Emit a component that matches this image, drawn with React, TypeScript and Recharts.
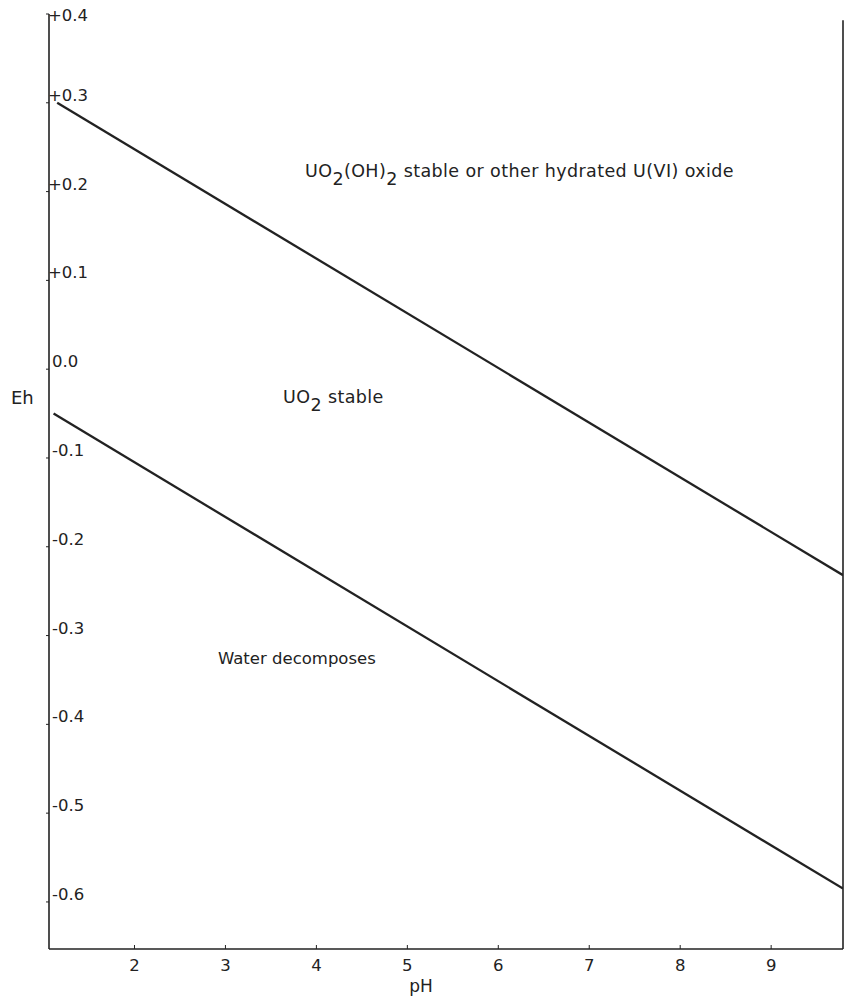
import { LineChart, Line, XAxis, YAxis, ReferenceLine } from "recharts";

// pH range shown on the bottom axis and Eh range on the left axis
const phDomain = [1.06, 9.79];
const ehDomain = [-0.653, 0.4];
const phTicks = [2, 3, 4, 5, 6, 7, 8, 9];
const ehTicks = [0.4, 0.3, 0.2, 0.1, 0.0, -0.1, -0.2, -0.3, -0.4, -0.5, -0.6];

// boundary UO2 / UO2(OH)2
const upperBoundary = [
  { ph: 1.15, eh: 0.3 },
  { ph: 9.79, eh: -0.232 },
];

// water stability limit
const lowerBoundary = [
  { ph: 1.11, eh: -0.05 },
  { ph: 9.79, eh: -0.585 },
];

const INK = "#222";
const FONT = "'DejaVu Sans', sans-serif";
const AXIS_X = 49;
const AXIS_Y = 949;

const formatEh = (v: number) => {
  if (Math.abs(v) < 1e-9) return "0.0";
  return (v > 0 ? "+" : "-") + Math.abs(v).toFixed(1);
};

const EhTick = (props: any) => {
  const { y, payload } = props;
  const label = formatEh(payload.value);
  return (
    <g>
      <line x1={AXIS_X - 3} x2={AXIS_X} y1={y} y2={y} stroke={INK} strokeWidth={1} />
      <text
        x={label.startsWith("+") ? AXIS_X - 1 : AXIS_X + 3}
        y={Math.max(y - 2, 21)}
        fontSize={16.5}
        fill={INK}
        fontFamily={FONT}
      >
        {label}
      </text>
    </g>
  );
};

const PhTick = (props: any) => {
  const { x, payload } = props;
  return (
    <g>
      <line x1={x} x2={x} y1={AXIS_Y} y2={AXIS_Y - 4} stroke={INK} strokeWidth={1} />
      <text x={x} y={AXIS_Y + 22} fontSize={16.5} fill={INK} fontFamily={FONT} textAnchor="middle">
        {payload.value}
      </text>
    </g>
  );
};

const App = () => {
  return (
    <div style={{ position: "absolute", left: 0, top: 0, width: 845, height: 999, background: "#fff" }}>
      <LineChart
        width={845}
        height={999}
        margin={{ top: 14, right: 2, bottom: 0, left: 0 }}
      >
        <XAxis
          type="number"
          dataKey="ph"
          domain={phDomain}
          ticks={phTicks}
          allowDataOverflow
          height={50}
          axisLine={{ stroke: INK, strokeWidth: 1.6 }}
          tickLine={false}
          tick={<PhTick />}
        />
        <YAxis
          type="number"
          dataKey="eh"
          domain={ehDomain}
          ticks={ehTicks}
          allowDataOverflow
          width={49}
          axisLine={{ stroke: INK, strokeWidth: 1.6 }}
          tickLine={false}
          tick={<EhTick />}
        />
        <ReferenceLine
          segment={[
            { x: phDomain[1], y: 0.393 },
            { x: phDomain[1], y: ehDomain[0] },
          ]}
          stroke={INK}
          strokeWidth={1.6}
        />
        <Line
          data={upperBoundary}
          dataKey="eh"
          stroke={INK}
          strokeWidth={2.3}
          dot={false}
          isAnimationActive={false}
        />
        <Line
          data={lowerBoundary}
          dataKey="eh"
          stroke={INK}
          strokeWidth={2.3}
          dot={false}
          isAnimationActive={false}
        />
      </LineChart>
      <svg
        width={845}
        height={999}
        style={{ position: "absolute", left: 0, top: 0, pointerEvents: "none" }}
        fontFamily={FONT}
        fill={INK}
      >
        <text x={11} y={404} fontSize={18}>Eh</text>
        <text x={421} y={992} fontSize={17} textAnchor="middle">pH</text>
        <text x={305} y={177} fontSize={17.5} letterSpacing={0.4}>
          UO<tspan dy={8}>2</tspan>
          <tspan dy={-8}>(OH)</tspan>
          <tspan dy={8}>2</tspan>
          <tspan dy={-8}> stable or other hydrated U(VI) oxide</tspan>
        </text>
        <text x={283} y={403} fontSize={17.5} letterSpacing={0.4}>
          UO<tspan dy={8}>2</tspan>
          <tspan dy={-8}> stable</tspan>
        </text>
        <text x={218} y={664} fontSize={16.5}>Water decomposes</text>
      </svg>
    </div>
  );
};

export default App;
